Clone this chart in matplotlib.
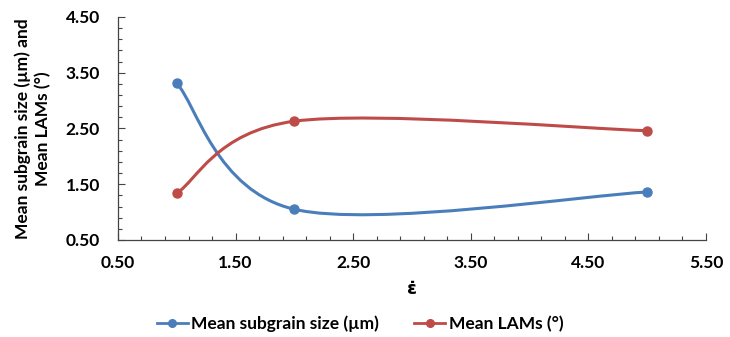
import matplotlib.pyplot as plt
import numpy as np
from matplotlib.path import Path
from matplotlib.patches import PathPatch
from matplotlib.lines import Line2D
from matplotlib.ticker import MultipleLocator, FormatStrFormatter

strain_rate = [1, 2, 5]
subgrain_size = [3.31, 1.05, 1.36]
mean_lams = [1.34, 2.63, 2.46]
labels = ["Mean subgrain size (µm)", "Mean LAMs (°)"]
colors = ["#4A7EBB", "#BE4B48"]

plt.rcParams['font.family'] = ['Lato', 'DejaVu Sans']
plt.rcParams['font.weight'] = 'bold'


def smooth_path(xs, ys):
    # excel-style smoothed line: cubic bezier with catmull-rom tangents
    pts = np.column_stack([xs, ys]).astype(float)
    n = len(pts)
    verts = [pts[0]]
    codes = [Path.MOVETO]
    for i in range(n - 1):
        p0 = pts[max(i - 1, 0)]
        p1 = pts[i]
        p2 = pts[i + 1]
        p3 = pts[min(i + 2, n - 1)]
        c1 = p1 + (p2 - p0) / 6
        c2 = p2 - (p3 - p1) / 6
        verts += [c1, c2, p2]
        codes += [Path.CURVE4] * 3
    return Path(verts, codes)


fig = plt.figure(figsize=(7.3, 3.37), dpi=100)
ax = fig.add_axes([0.1616, 0.288, 0.8055, 0.6616])

for ys, c in zip([subgrain_size, mean_lams], colors):
    ax.add_patch(PathPatch(smooth_path(strain_rate, ys), fill=False, edgecolor=c, lw=2.2))
    ax.plot(strain_rate, ys, 'o', color=c, ms=6.5, zorder=3)

ax.set_xlim(0.5, 5.5)
ax.set_ylim(0.5, 4.5)
ax.xaxis.set_major_locator(MultipleLocator(1, offset=0.5))
ax.xaxis.set_minor_locator(MultipleLocator(0.2, offset=0.1))
ax.yaxis.set_major_locator(MultipleLocator(1, offset=0.5))
ax.yaxis.set_minor_locator(MultipleLocator(0.2, offset=0.1))
ax.xaxis.set_major_formatter(FormatStrFormatter('%.2f'))
ax.yaxis.set_major_formatter(FormatStrFormatter('%.2f'))
ax.tick_params(which='major', direction='in', length=5, width=0.8, color='#444444', labelsize=12.5)
ax.tick_params(which='minor', direction='in', length=3, width=0.8, color='#444444')
ax.tick_params(axis='x', which='major', pad=11)
ax.tick_params(axis='y', which='major', pad=13)
for s in ['top', 'right']:
    ax.spines[s].set_visible(False)
for s in ['left', 'bottom']:
    ax.spines[s].set_color('#444444')
    ax.spines[s].set_linewidth(0.9)

ax.set_xlabel("ε̇", fontsize=13, fontweight='bold', labelpad=6,
              family=['DejaVu Sans'])
ax.set_ylabel("Mean subgrain size (µm) and\nMean LAMs (°)", fontsize=12.5,
              fontweight='bold', labelpad=10, linespacing=1.3,
              multialignment='center')

handles = [Line2D([], [], color=c, lw=2, marker='o', ms=5.5) for c in colors]
fig.legend(handles, labels, loc='center', bbox_to_anchor=(0.493, 0.04), ncol=2,
           frameon=False, fontsize=12.5, handlelength=1.8, columnspacing=2.0,
           handletextpad=0.2)

fig.savefig("out.png", dpi=100)
